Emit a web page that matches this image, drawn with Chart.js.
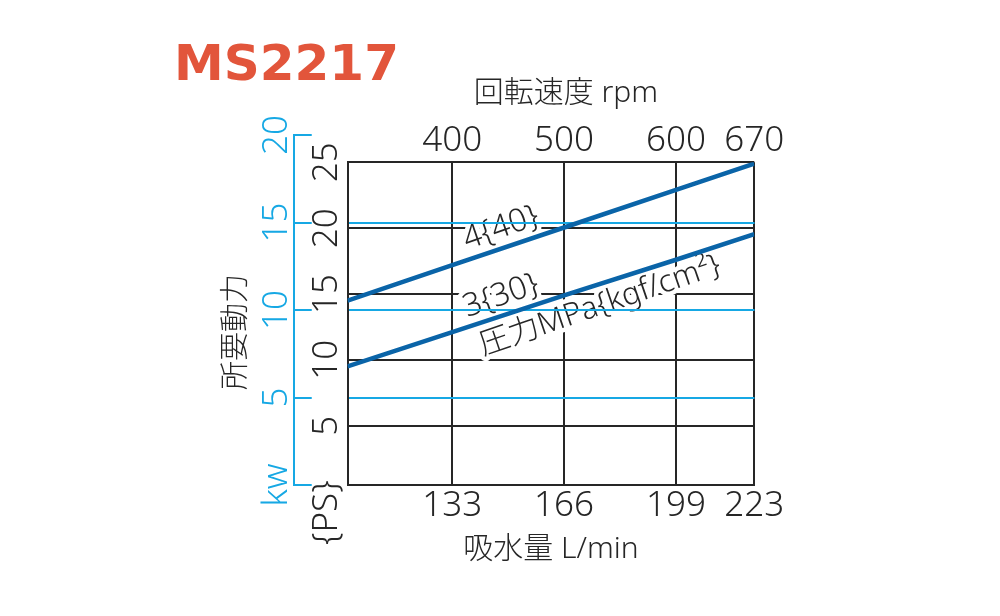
<!DOCTYPE html>
<html lang="ja">
<head>
    <meta charset="UTF-8">
    <title>MS2217</title>
    <style>
        body { margin: 0; background: #fff; }
    </style>
</head>
<body>
    <canvas id="chart" width="1000" height="616"></canvas>

    <script src="https://cdn.jsdelivr.net/npm/chart.js@4.4.0/dist/chart.umd.min.js"></script>
    <script>
        // values
        const rpmPoints = [306.4, 400, 500, 600, 670];
        const power40 = [14.5, 17.2, 20.05, 22.9, 24.9];   // 4 MPa {40}
        const power30 = [9.5, 12.1, 14.9, 17.6, 19.55];    // 3 MPa {30}

        const rpmTicks = [400, 500, 600, 670];
        const flowLabels = ['133', '166', '199', '223'];
        const psTicks = [-1.6, 5, 10, 15, 20, 25];
        const psLabels = ['{PS}', '5', '10', '15', '20', '25'];
        const kwTicks = [0, 5, 10, 15, 20];
        const kwLabels = ['kw', '5', '10', '15', '20'];

        // notes written along the lines (rpm, PS)
        const noteText = ['4{40}', '3{30}', '圧力MPa{kgf/cm²}'];
        const noteRpm = [443.6, 443.6, 532];
        const notePs = [20.0, 14.85, 14.1];

        const FONT = '"Noto Sans", "Noto Sans CJK JP", sans-serif';
        const INK = '#262626';
        const CYAN = '#16a8e4';
        const BLUE = '#0a64a8';

        Chart.defaults.font.family = FONT;
        Chart.defaults.font.weight = 300;

        // kw axis runs a bit higher than the plot frame
        const kwExtend = {
            id: 'kwExtend',
            afterLayout(chart) {
                const s = chart.scales.kw;
                s.top = chart.chartArea.top - 27.3;
                s.height = s.bottom - s.top;
                s.configure();
            }
        };

        const lineNotes = {
            id: 'lineNotes',
            beforeDatasetsDraw(chart) {
                const ctx = chart.ctx;
                const x = chart.scales.x;
                const y = chart.scales.y;
                noteText.forEach((t, i) => {
                    ctx.save();
                    ctx.translate(x.getPixelForValue(noteRpm[i]), y.getPixelForValue(notePs[i]));
                    ctx.rotate(-19 * Math.PI / 180);
                    ctx.font = '300 ' + (i < 2 ? 32 : 31) + 'px ' + FONT;
                    ctx.textAlign = 'center';
                    ctx.textBaseline = 'middle';
                    ctx.lineJoin = 'round';
                    ctx.lineWidth = 9;
                    ctx.strokeStyle = '#fff';
                    ctx.strokeText(t, 0, 0);
                    ctx.fillStyle = INK;
                    ctx.fillText(t, 0, 0);
                    ctx.restore();
                });
                // cyan kw lines stay on top of the text
                chart.scales.kw.drawGrid(chart.chartArea);
            }
        };

        const chart = new Chart(document.getElementById('chart'), {
            type: 'line',
            data: {
                datasets: [{
                    label: '4{40}',
                    data: rpmPoints.map((r, i) => ({ x: r, y: power40[i] })),
                    borderColor: BLUE,
                    borderWidth: 4.5,
                    pointRadius: 0
                }, {
                    label: '3{30}',
                    data: rpmPoints.map((r, i) => ({ x: r, y: power30[i] })),
                    borderColor: BLUE,
                    borderWidth: 4.5,
                    pointRadius: 0
                }]
            },
            options: {
                responsive: false,
                animation: false,
                layout: { padding: { left: 174, right: 245.7, top: 0, bottom: 0 } },
                plugins: {
                    legend: { display: false },
                    tooltip: { enabled: false },
                    title: {
                        display: true,
                        text: 'MS2217',
                        align: 'start',
                        color: '#e2553b',
                        font: { family: '"DejaVu Sans", sans-serif', size: 50, weight: 700, lineHeight: 1.2 },
                        padding: { top: 37, bottom: -30 }
                    }
                },
                scales: {
                    x: {
                        type: 'linear',
                        position: 'bottom',
                        min: 306.4,
                        max: 670,
                        afterBuildTicks: s => { s.ticks = rpmTicks.map(v => ({ value: v })); },
                        afterFit: s => { s.height = 131; },
                        ticks: {
                            autoSkip: false, maxRotation: 0, padding: 0,
                            color: INK, font: { size: 35 },
                            callback: (v, i) => flowLabels[i]
                        },
                        grid: { color: INK, lineWidth: 2, drawTicks: false },
                        border: { color: INK, width: 2 },
                        title: {
                            display: true, text: '吸水量 L/min', color: INK,
                            font: { size: 30 }, padding: { top: 0, bottom: 48.5 }
                        }
                    },
                    x2: {
                        type: 'linear',
                        position: 'top',
                        min: 306.4,
                        max: 670,
                        afterBuildTicks: s => { s.ticks = rpmTicks.map(v => ({ value: v })); },
                        afterFit: s => { s.height = 95.3; },
                        ticks: {
                            autoSkip: false, maxRotation: 0, padding: -8,
                            color: INK, font: { size: 35 },
                            callback: (v, i) => String(rpmTicks[i])
                        },
                        grid: { display: false },
                        border: { display: false },
                        title: {
                            display: true, text: '\u3000回転速度 rpm', color: INK,
                            font: { size: 30 }, padding: { top: 8, bottom: 0 }
                        }
                    },
                    y: {
                        type: 'linear',
                        position: 'left',
                        min: 0.5,
                        max: 25,
                        afterBuildTicks: s => { s.ticks = psTicks.map(v => ({ value: v })); },
                        afterFit: s => { s.width = 54; },
                        ticks: {
                            autoSkip: false, minRotation: 90, maxRotation: 90,
                            crossAlign: 'center', padding: -12,
                            color: INK, font: { size: 35 },
                            callback: (v, i) => psLabels[i]
                        },
                        grid: {
                            color: c => (c.tick && c.tick.value < 0) ? 'rgba(0,0,0,0)' : INK,
                            lineWidth: 2, drawTicks: false
                        },
                        border: { color: INK, width: 2 }
                    },
                    kw: {
                        type: 'linear',
                        position: 'left',
                        weight: 1,
                        min: 0,
                        max: 20,
                        afterBuildTicks: s => { s.ticks = kwTicks.map(v => ({ value: v })); },
                        afterFit: s => { s.width = 119.5; },
                        ticks: {
                            autoSkip: false, minRotation: 90, maxRotation: 90,
                            crossAlign: 'center', padding: 12.5,
                            color: CYAN, font: { size: 35 },
                            callback: (v, i) => kwLabels[i]
                        },
                        grid: {
                            color: c => (c.tick && (c.tick.value === 0 || c.tick.value === 20)) ? 'rgba(0,0,0,0)' : CYAN,
                            tickColor: CYAN,
                            lineWidth: 2,
                            tickWidth: 2,
                            tickLength: -18
                        },
                        border: { color: CYAN, width: 2 },
                        title: {
                            display: true, text: '所要動力\u3000  ', color: INK,
                            font: { size: 29 }, padding: { top: 45.6, bottom: 0 }
                        }
                    }
                }
            },
            plugins: [kwExtend, lineNotes]
        });
    </script>
</body>
</html>
